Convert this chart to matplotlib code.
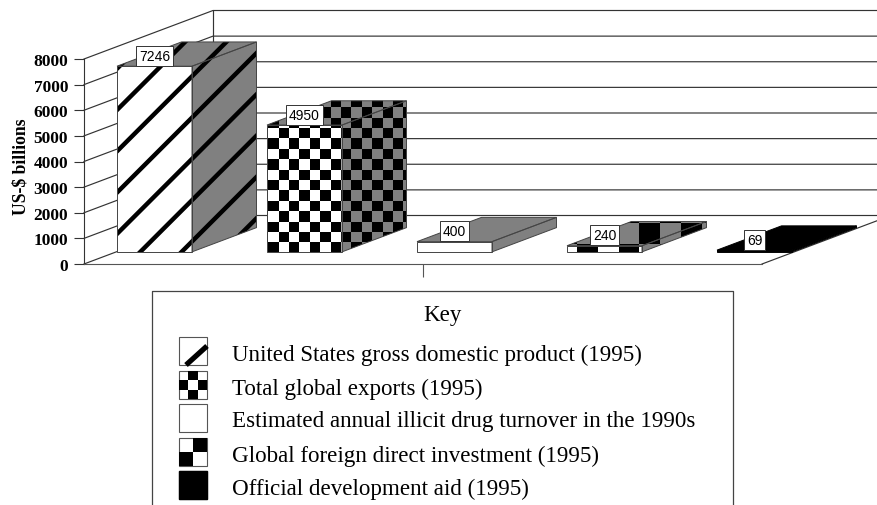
import numpy as np
import matplotlib
matplotlib.use('Agg')
import matplotlib.pyplot as plt
from matplotlib.patches import Polygon, Rectangle
from matplotlib.collections import LineCollection, PolyCollection

# chart values
values = [7246, 4950, 400, 240, 69]
value_labels = ['7246', '4950', '400', '240', '69']
y_ticks = [0, 1000, 2000, 3000, 4000, 5000, 6000, 7000, 8000]
fills = ['stripes', 'checks', 'plain', 'bigchecks', 'solid']
key_labels = ['United States gross domestic product (1995)',
              'Total global exports (1995)',
              'Estimated annual illicit drug turnover in the 1990s',
              'Global foreign direct investment (1995)',
              'Official development aid (1995)']

W, H = 878, 506
GRAY = '#808080'
SERIF = 'Liberation Serif'

fig = plt.figure(figsize=(W / 100, H / 100), dpi=100)
ax = fig.add_axes([84 / W, 1 - 265 / H, 678 / W, 205 / H])
# overlay in image pixels, used for the fill patterns and the key
key = fig.add_axes([0, 0, 1, 1])
key.set_xlim(0, W)
key.set_ylim(H, 0)
key.axis('off')
pix = key.transData

ax.set_xlim(0, 678 / 150)
ax.set_ylim(0, 8000)
ax.patch.set_visible(False)
DX = 129 / 150
DY = 48.5 / 205 * 8000


def pt(x, v, d):
    # front plane position pushed back by depth d
    return (x + d * DX, v + d * DY)


# walls
for v in y_ticks:
    p0, p1, p2 = pt(0, v, 0), pt(0, v, 1), pt(678 / 150, v, 1)
    ax.plot([p0[0], p1[0], p2[0]], [p0[1], p1[1], p2[1]], color='#333333', lw=0.85,
            clip_on=False, zorder=1)
ax.plot([DX, DX], [DY, 8000 + DY], color='#333333', lw=0.85, clip_on=False, zorder=1)
end0, end1 = pt(678 / 150, 0, 0), pt(678 / 150, 0, 1)
ax.plot([end0[0], end1[0]], [end0[1], end1[1]], color='#333333', lw=0.85, clip_on=False, zorder=1)

for s in ['top', 'right']:
    ax.spines[s].set_visible(False)
ax.spines['bottom'].set_color('#555555')
ax.spines['left'].set_color('#333333')
ax.spines['left'].set_linewidth(0.8)
ax.set_yticks(y_ticks)
ax.set_yticklabels([str(v) for v in y_ticks], fontfamily=SERIF, fontweight='bold', fontsize=12.5)
ax.tick_params(axis='y', length=7.2, width=0.8, pad=4.3, color='#333333')
ax.set_xticks([678 / 300])
ax.set_xticklabels([''])
ax.tick_params(axis='x', length=9.5, width=0.8, color='#555555')
ax.set_ylabel('US-$ billions', fontfamily=SERIF, fontweight='bold', fontsize=12.7,
              y=0.48, labelpad=2.5)


def stripe_art(clip):
    segs = [[(c - 400, 400), (c + 100, -100)] for c in np.arange(228 - 41.3 * 2, 560, 41.3)]
    lc = LineCollection(segs, colors='black', linewidths=3.2, transform=pix, zorder=3)
    lc.set_clip_path(clip)
    ax.add_collection(lc, autolim=False)


def check_art(clip, x0, y0, cell):
    polys = []
    for i in range(-2, 24):
        for j in range(-2, 24):
            if (i + j) % 2 == 0:
                x, y = x0 + i * cell, y0 - j * cell
                polys.append([(x, y), (x + cell, y), (x + cell, y - cell), (x, y - cell)])
    pc = PolyCollection(polys, facecolors='black', edgecolors='none', transform=pix, zorder=3)
    pc.set_clip_path(clip)
    ax.add_collection(pc, autolim=False)


w = 0.5
for i, v in enumerate(values):
    x = i + 0.005
    front = [pt(x, 0, .25), pt(x + w, 0, .25), pt(x + w, v, .25), pt(x, v, .25)]
    side = [pt(x + w, 0, .25), pt(x + w, 0, .75), pt(x + w, v, .75), pt(x + w, v, .25)]
    top = [pt(x, v, .25), pt(x + w, v, .25), pt(x + w, v, .75), pt(x, v, .75)]
    kind = fills[i]
    edge = 'black' if kind == 'solid' else '#444444'
    for pts, col in [(front, 'white'), (side, GRAY), (top, GRAY)]:
        if kind == 'solid':
            col = 'black'
        face = Polygon(pts, closed=True, facecolor=col, edgecolor='none', clip_on=False, zorder=2)
        ax.add_patch(face)
        if kind == 'stripes':
            stripe_art(face)
        elif kind == 'checks':
            check_art(face, 268.3, 253.7, 10.4)
        elif kind == 'bigchecks':
            check_art(face, 577, 266, 20.8)
        ax.add_patch(Polygon(pts, closed=True, fill=False, edgecolor=edge, lw=0.7,
                             clip_on=False, zorder=4))
    ax.annotate(value_labels[i], xy=pt(x + w / 2, v, .25), xytext=(0, 2.4), textcoords='offset points',
                ha='center', va='bottom', fontsize=10, fontfamily='Liberation Sans',
                annotation_clip=False, zorder=5,
                bbox=dict(boxstyle='square,pad=0.22', facecolor='white', edgecolor='#333333', lw=0.7))

# key box, runs off the bottom of the image
key.plot([152, 152, 733, 733], [H + 5, 291.5, 291.5, H + 5], color='#444444', lw=0.9)
key.text(443, 316, 'Key', ha='center', va='center', fontfamily=SERIF, fontsize=16.6)

sw_tops = [338, 372, 405, 439, 472]
for top_y, label, kind in zip(sw_tops, key_labels, fills):
    box = Rectangle((179, top_y), 28, 28, facecolor='white', edgecolor='#555555', lw=0.8)
    key.add_patch(box)
    if kind == 'stripes':
        key.plot([186, 207], [top_y + 28, top_y + 9], color='black', lw=3.8, solid_capstyle='butt')
    elif kind == 'checks':
        c = 28 / 3
        for a, b in [(1, 0), (0, 1), (2, 1), (1, 2)]:
            key.add_patch(Rectangle((179 + a * c, top_y + b * c), c, c, facecolor='black', edgecolor='none'))
    elif kind == 'bigchecks':
        key.add_patch(Rectangle((193, top_y), 14, 14, facecolor='black', edgecolor='none'))
        key.add_patch(Rectangle((179, top_y + 14), 14, 14, facecolor='black', edgecolor='none'))
    elif kind == 'solid':
        key.add_patch(Rectangle((179, top_y), 28, 28, facecolor='black', edgecolor='black'))
    key.text(232, top_y + 17, label, ha='left', va='center', fontfamily=SERIF, fontsize=16.6)

fig.savefig('out.png', dpi=100)
